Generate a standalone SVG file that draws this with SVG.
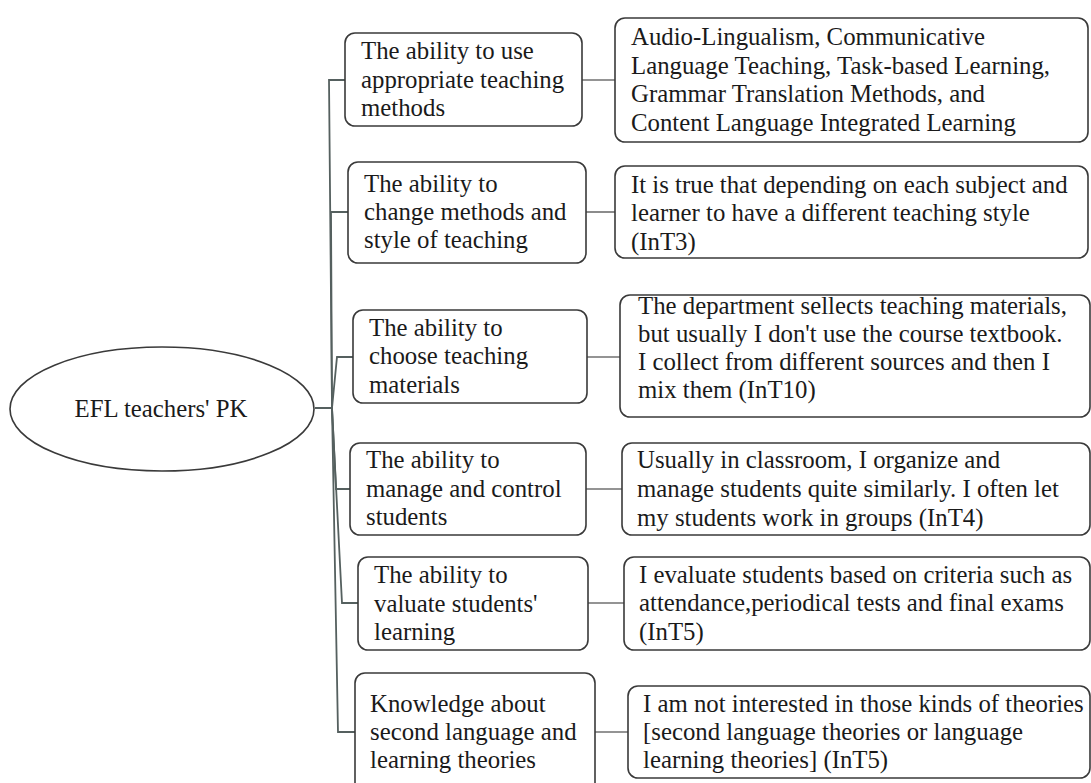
<svg xmlns="http://www.w3.org/2000/svg" width="1091" height="783" viewBox="0 0 1091 783">
<style>
.box{fill:#fff;stroke:#3a3a3a;stroke-width:1.6}
.t{font-family:'Liberation Serif','Tinos','Times New Roman','DejaVu Serif',serif;font-size:24.8px;fill:#1a1a1a}
.c{fill:none;stroke:#55605f;stroke-width:1.8}
.c2{fill:none;stroke:#707070;stroke-width:1.6}
</style>
<rect width="1091" height="783" fill="#fff"/>
<g id="connectors">
<path class="c" d="M315,408 H332 L329,80 H345"/>
<path class="c" d="M332,408 L331,212 H348"/>
<path class="c" d="M332,408 L337,357 H353"/>
<path class="c" d="M332,408 L336,489 H350"/>
<path class="c" d="M332,408 L342,603 H358"/>
<path class="c" d="M332,408 L338,732 H355"/>
<path class="c2" d="M582,80 H615"/>
<path class="c2" d="M586,212 H615"/>
<path class="c2" d="M587,357 H620"/>
<path class="c2" d="M586,489 H622"/>
<path class="c2" d="M588,603 H624"/>
<path class="c2" d="M595,732 H628"/>
</g>
<g id="root">
<ellipse class="box" cx="162" cy="409" rx="152" ry="62"/>
<text class="t" x="161" y="417" text-anchor="middle">EFL teachers' PK</text>
</g>
<g id="n1">
<rect class="box" x="345" y="33" width="237" height="93" rx="10"/>
<text class="t"><tspan x="361" y="59">The ability to use</tspan><tspan x="361" y="88">appropriate teaching</tspan><tspan x="361" y="116">methods</tspan></text>
</g>
<g id="d1">
<rect class="box" x="615" y="18" width="473" height="124" rx="10"/>
<text class="t"><tspan x="631" y="45">Audio-Lingualism, Communicative</tspan><tspan x="631" y="74">Language Teaching, Task-based Learning,</tspan><tspan x="631" y="102">Grammar Translation Methods, and</tspan><tspan x="631" y="131">Content Language Integrated Learning</tspan></text>
</g>
<g id="n2">
<rect class="box" x="348" y="162" width="238" height="101" rx="10"/>
<text class="t"><tspan x="364" y="192">The ability to</tspan><tspan x="364" y="220">change methods and</tspan><tspan x="364" y="248">style of teaching</tspan></text>
</g>
<g id="d2">
<rect class="box" x="615" y="166" width="473" height="92" rx="10"/>
<text class="t"><tspan x="631" y="193">It is true that depending on each subject and</tspan><tspan x="631" y="221">learner to have a different teaching style</tspan><tspan x="631" y="250">(InT3)</tspan></text>
</g>
<g id="n3">
<rect class="box" x="353" y="310" width="234" height="93" rx="10"/>
<text class="t"><tspan x="369" y="336">The ability to</tspan><tspan x="369" y="364">choose teaching</tspan><tspan x="369" y="393">materials</tspan></text>
</g>
<g id="d3">
<rect class="box" x="620" y="295" width="470" height="122" rx="10"/>
<text class="t"><tspan x="638" y="314">The department sellects teaching materials,</tspan><tspan x="638" y="342">but usually I don't use the course textbook.</tspan><tspan x="638" y="370">I collect from different sources and then I</tspan><tspan x="638" y="398">mix them (InT10)</tspan></text>
</g>
<g id="n4">
<rect class="box" x="350" y="443" width="236" height="92" rx="10"/>
<text class="t"><tspan x="366" y="468">The ability to</tspan><tspan x="366" y="497">manage and control</tspan><tspan x="366" y="525">students</tspan></text>
</g>
<g id="d4">
<rect class="box" x="622" y="443" width="468" height="92" rx="10"/>
<text class="t"><tspan x="637" y="468">Usually in classroom, I organize and</tspan><tspan x="637" y="497">manage students quite similarly. I often let</tspan><tspan x="637" y="526">my students work in groups (InT4)</tspan></text>
</g>
<g id="n5">
<rect class="box" x="358" y="557" width="230" height="93" rx="10"/>
<text class="t"><tspan x="374" y="583">The ability to</tspan><tspan x="374" y="612">valuate students'</tspan><tspan x="374" y="640">learning</tspan></text>
</g>
<g id="d5">
<rect class="box" x="624" y="557" width="466" height="93" rx="10"/>
<text class="t"><tspan x="639" y="583">I evaluate students based on criteria such as</tspan><tspan x="639" y="611">attendance,periodical tests and final exams</tspan><tspan x="639" y="640">(InT5)</tspan></text>
</g>
<g id="n6">
<rect class="box" x="355" y="673" width="240" height="120" rx="10"/>
<text class="t"><tspan x="370" y="712">Knowledge about</tspan><tspan x="370" y="740">second language and</tspan><tspan x="370" y="768">learning theories</tspan></text>
</g>
<g id="d6">
<rect class="box" x="628" y="686" width="462" height="92" rx="10"/>
<text class="t"><tspan x="643" y="712">I am not interested in those kinds of theories</tspan><tspan x="643" y="740">[second language theories or language</tspan><tspan x="643" y="768">learning theories] (InT5)</tspan></text>
</g>
</svg>
